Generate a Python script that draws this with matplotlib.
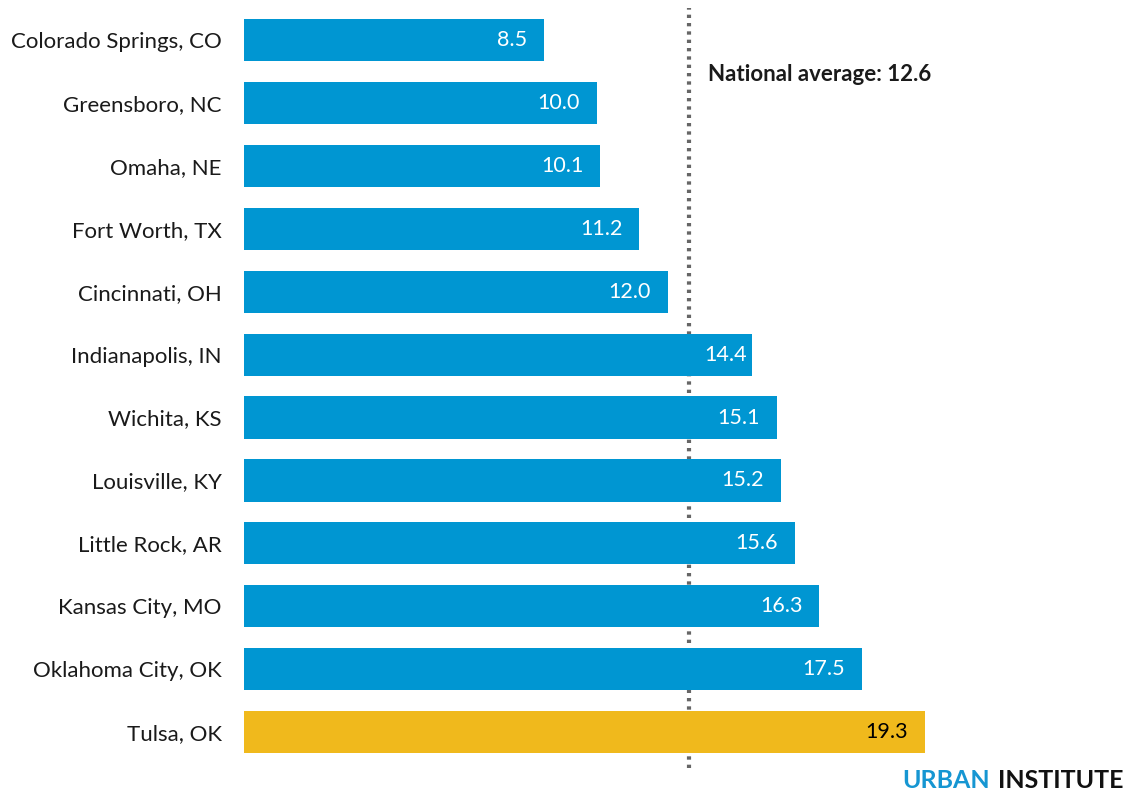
import matplotlib.pyplot as plt
from matplotlib.transforms import offset_copy

plt.rcParams['font.family'] = ['Lato', 'DejaVu Sans']

# --- Datos ---
cities = ["Colorado Springs, CO", "Greensboro, NC", "Omaha, NE", "Fort Worth, TX",
          "Cincinnati, OH", "Indianapolis, IN", "Wichita, KS", "Louisville, KY",
          "Little Rock, AR", "Kansas City, MO", "Oklahoma City, OK", "Tulsa, OK"]
values = [8.5, 10.0, 10.1, 11.2, 12.0, 14.4, 15.1, 15.2, 15.6, 16.3, 17.5, 19.3]
highlight = "Tulsa, OK"
national_avg = 12.6

BLUE = "#0096D2"
YELLOW = "#F0B91C"

W, H = 1137, 795
fig = plt.figure(figsize=(W / 100, H / 100), dpi=100)
ax = fig.add_axes([244 / W, 27 / H, 1 - 244 / W, (768 - 8) / H])

ypos = list(range(len(cities)))
colors = [YELLOW if c == highlight else BLUE for c in cities]
ax.barh(ypos, values, height=0.67, color=colors, zorder=2)

ax.axvline(national_avg, color="#666666", linewidth=3,
           linestyle=(0, (0.8, 1.2)), dash_capstyle="butt", zorder=1)
ax.annotate(f"National average: {national_avg}", (national_avg, 0.55),
            xytext=(19, 0), textcoords="offset pixels",
            ha="left", va="center", fontsize=16, fontweight="bold", color="#1a1a1a")

ax.set_yticks(ypos)
ax.set_yticklabels(cities, fontsize=16, color="#1a1a1a")
ax.tick_params(axis="y", length=0, pad=16)
ax.set_xticks([])
ax.set_xlim(0, 25.3)
ax.set_ylim(11.57, -0.51)
for s in ax.spines.values():
    s.set_visible(False)

# Etiquetas de valor (se apartan de la línea del promedio si la tocarían)
fig.canvas.draw()
renderer = fig.canvas.get_renderer()
avg_px = ax.transData.transform((national_avg, 0))[0]
for y, v, c in zip(ypos, values, cities):
    t = ax.annotate(f"{v:.1f}", (v, y), xytext=(-17, 0), textcoords="offset pixels",
                    ha="right", va="center", fontsize=15.5,
                    color="black" if c == highlight else "white", zorder=4)
    bb = t.get_window_extent(renderer)
    if bb.x0 < avg_px + 16 < bb.x1 + 17:
        t.set_position((avg_px + 16 + bb.width - ax.transData.transform((v, y))[0], 0))

# Logo
fig.text(990 / W, 1 - 780 / H, "URBAN", ha="right", va="center",
         fontsize=18, fontweight="bold", color="#1696D2")
fig.text(998 / W, 1 - 780 / H, "INSTITUTE", ha="left", va="center",
         fontsize=18, fontweight="bold", color="#111111")

fig.savefig("out.png", dpi=100)
